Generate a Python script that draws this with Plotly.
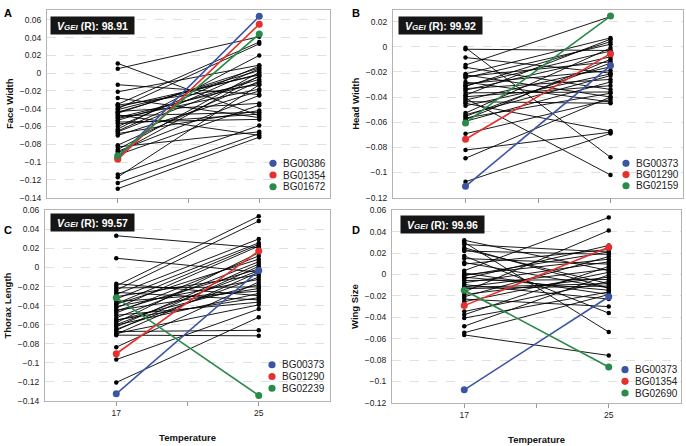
import plotly.graph_objects as go

W, H = 686, 446

temperatures = [17, 25]
temp_tick_labels = ["17", "", "25"]

# ---------------- Panel A: Face Width ----------------
face_low = [0.011, 0.005, -0.013, -0.021, -0.028, -0.035, -0.038, -0.040, -0.043, -0.045,
            -0.048, -0.051, -0.053, -0.055, -0.044, -0.050, -0.063, -0.066, -0.068, -0.070,
            -0.081, -0.083, -0.086, -0.088, -0.092, -0.114, -0.117, -0.1235, -0.130, -0.057,
            -0.060, -0.047, -0.041, -0.036, -0.090, -0.065]
face_high = [-0.048, 0.041, -0.024, 0.009, -0.050, 0.035, -0.002, 0.033, -0.034, 0.006,
             -0.044, -0.018, -0.007, -0.052, 0.003, -0.011, 0.020, -0.004, -0.042, -0.020,
             -0.009, -0.066, 0.001, -0.025, -0.036, -0.059, -0.013, -0.068, -0.072, -0.046,
             0.008, -0.070, -0.001, -0.013, -0.003, 0.005]
face_hl_names = ["BG00386", "BG01354", "BG01672"]
face_hl_low = [-0.095, -0.097, -0.093]
face_hl_high = [0.064, 0.055, 0.044]

# ---------------- Panel B: Head Width ----------------
head_low = [-0.0008, -0.002, -0.0086, -0.0146, -0.0164, -0.0216, -0.0224, -0.0237, -0.0247, -0.0281,
            -0.0294, -0.0315, -0.0333, -0.0346, -0.0367, -0.0385, -0.0398, -0.0411, -0.0424, -0.0437,
            -0.045, -0.0528, -0.0541, -0.0554, -0.0567, -0.058, -0.0593, -0.0692, -0.0822, -0.0887,
            -0.1074, -0.031, -0.047]
head_high = [-0.088, -0.003, -0.021, 0.024, -0.034, 0.007, -0.040, -0.012, 0.002, -0.044,
             -0.019, 0.004, -0.026, -0.008, -0.036, 0.006, -0.031, -0.102, -0.016, -0.045,
             -0.067, -0.001, -0.023, -0.013, -0.037, -0.010, -0.028, -0.042, -0.068, -0.040,
             -0.069, -0.0034, -0.0216]
head_hl_names = ["BG00373", "BG01290", "BG02159"]
head_hl_low = [-0.111, -0.0736, -0.0606]
head_hl_high = [-0.015, -0.0055, 0.0244]

# ---------------- Panel C: Thorax Length ----------------
thorax_low = [0.0333, 0.0097, -0.017, -0.0193, -0.0214, -0.0238, -0.0262, -0.0282, -0.0306, -0.033,
              -0.0358, -0.0385, -0.0409, -0.0426, -0.0453, -0.0477, -0.0501, -0.0529, -0.0556, -0.058,
              -0.0604, -0.0624, -0.0648, -0.0672, -0.0693, -0.071, -0.0836, -0.0966, -0.1206, -0.066,
              -0.045, -0.055, -0.038, -0.070, -0.060]
thorax_high = [0.0207, -0.005, -0.0296, 0.0538, -0.0204, 0.0487, -0.034, 0.0299, -0.0077, 0.0258,
               -0.0248, 0.0087, -0.0125, 0.0224, -0.0016, 0.0121, -0.0364, 0.006, -0.018, 0.0155,
               -0.0272, 0.0036, -0.0101, -0.0659, -0.0392, -0.0717, -0.0152, -0.0436, -0.0522, 0.0012,
               -0.0221, -0.0317, 0.0241, -0.005, -0.0033]
thorax_hl_names = ["BG00373", "BG01290", "BG02239"]
thorax_hl_low = [-0.1325, -0.0905, -0.0317]
thorax_hl_high = [-0.0033, 0.0172, -0.1343]

# ---------------- Panel D: Wing Size ----------------
wing_low = [0.032, 0.0301, 0.028, 0.0234, 0.0219, 0.0173, 0.0149, 0.0112, 0.0097, 0.0036,
            0.0014, -0.0004, -0.0025, -0.004, -0.0056, -0.0077, -0.0095, -0.0117, -0.0132, -0.0163,
            -0.0187, -0.0208, -0.023, -0.0254, -0.0346, -0.0376, -0.0407, -0.0483, -0.0544, -0.0565,
            0.025, -0.001, -0.012]
wing_high = [0.0036, -0.0538, 0.021, -0.0086, 0.0188, -0.0361, 0.0097, -0.0126, 0.0234, 0.0533,
             -0.0187, 0.0143, -0.0147, 0.0271, -0.0047, 0.0118, -0.023, 0.0051, -0.0108, 0.0411,
             -0.0025, 0.0167, -0.03, 0.002, -0.0065, 0.0075, -0.0163, -0.0004, -0.0187, -0.0757,
             -0.0126, 0.021, -0.0086]
wing_hl_names = ["BG00373", "BG01354", "BG02690"]
wing_hl_low = [-0.1078, -0.0291, -0.0147]
wing_hl_high = [-0.0208, 0.0255, -0.0864]

vgei_values = ["98.91", "99.92", "99.57", "99.96"]
panel_letters = ["A", "B", "C", "D"]
y_titles = ["Face Width", "Head Width", "Thorax Length", "Wing Size"]
hl_colors = ["#3b55a5", "#e5302c", "#2a8a47"]

panels = [
    dict(low=face_low, high=face_high, hl_names=face_hl_names, hl_low=face_hl_low, hl_high=face_hl_high,
         dom_x=(47, 330), dom_y=(5, 197), yrange=(-0.14, 0.0712), dtick=0.02, show_x=False,
         letter=(8, 8), box=(50, 11), legend=(273, 162, 12), ytitle_standoff=4),
    dict(low=head_low, high=head_high, hl_names=head_hl_names, hl_low=head_hl_low, hl_high=head_hl_high,
         dom_x=(393, 683), dom_y=(5, 197), yrange=(-0.12, 0.0293), dtick=0.02, show_x=False,
         letter=(356, 8), box=(398, 11), legend=(626, 162, 11.5), ytitle_standoff=4),
    dict(low=thorax_low, high=thorax_high, hl_names=thorax_hl_names, hl_low=thorax_hl_low, hl_high=thorax_hl_high,
         dom_x=(45, 330), dom_y=(210, 405), yrange=(-0.14, 0.06), dtick=0.02, show_x=True,
         letter=(8, 230), box=(50, 213), legend=(272, 368, 12), ytitle_standoff=4),
    dict(low=wing_low, high=wing_high, hl_names=wing_hl_names, hl_low=wing_hl_low, hl_high=wing_hl_high,
         dom_x=(392, 681), dom_y=(210, 407), yrange=(-0.12, 0.06), dtick=0.02, show_x=True,
         letter=(356, 230), box=(400, 215), legend=(625, 373, 12), ytitle_standoff=4),
]


def px(x):
    return x / W


def py(y):
    return 1 - y / H


fig = go.Figure()
annotations = []
shapes = []

for i, p in enumerate(panels):
    n = i + 1
    xa = "x" if n == 1 else f"x{n}"
    ya = "y" if n == 1 else f"y{n}"

    xs, ys = [], []
    for lo, hi in zip(p["low"], p["high"]):
        xs += [temperatures[0], temperatures[1], None]
        ys += [lo, hi, None]
    fig.add_trace(go.Scatter(x=xs, y=ys, mode="lines+markers", xaxis=xa, yaxis=ya,
                             line=dict(color="black", width=0.9),
                             marker=dict(color="black", size=4.5),
                             showlegend=False, hoverinfo="skip"))
    for name, lo, hi, col in zip(p["hl_names"], p["hl_low"], p["hl_high"], hl_colors):
        fig.add_trace(go.Scatter(x=temperatures, y=[lo, hi], mode="lines+markers", name=name,
                                 xaxis=xa, yaxis=ya, line=dict(color=col, width=1.6),
                                 marker=dict(color=col, size=7), showlegend=False))

    xkey = "xaxis" if n == 1 else f"xaxis{n}"
    ykey = "yaxis" if n == 1 else f"yaxis{n}"
    x0, x1 = p["dom_x"]
    t0, t1 = p["dom_y"]
    fig.update_layout(**{
        xkey: dict(domain=[px(x0), px(x1)], anchor=ya, range=[13, 29],
                   tickmode="array", tickvals=[17, 21, 25], ticktext=temp_tick_labels,
                   showticklabels=p["show_x"], ticks="outside", ticklen=4, tickcolor="#9a9a9a",
                   showgrid=False, zeroline=False, showline=True, mirror=True, linecolor="#b4b4b4",
                   linewidth=1, tickfont=dict(size=8.5, color="#222"),
                   title=dict(text="<b>Temperature</b>" if p["show_x"] else "",
                              font=dict(size=9.5, color="#111"), standoff=17)),
        ykey: dict(domain=[py(t1), py(t0)], anchor=xa, range=list(p["yrange"]),
                   tickmode="linear", tick0=0, dtick=p["dtick"], tickformat="~g",
                   showgrid=True, gridcolor="#e0e0e0", griddash="dash", gridwidth=1,
                   zeroline=False, showline=True, mirror=True, linecolor="#b4b4b4", linewidth=1,
                   ticks="", ticklabelstandoff=3, tickfont=dict(size=8.5, color="#222"),
                   title=dict(text=f"<b>{y_titles[i]}</b>", font=dict(size=9.5, color="#111"),
                              standoff=p["ytitle_standoff"])),
    })

    # panel letter
    lx, ly = p["letter"]
    annotations.append(dict(x=px(lx), y=py(ly), xref="paper", yref="paper", text=f"<b>{panel_letters[i]}</b>",
                            showarrow=False, font=dict(size=11, color="black", family="Liberation Sans, Arial"),
                            xanchor="center", yanchor="middle"))
    # VGEI box
    bx, by = p["box"]
    annotations.append(dict(x=px(bx), y=py(by), xref="paper", yref="paper",
                            text=f"<b><i>V<span style='font-size:8px'>GEI</span></i> (R): {vgei_values[i]}</b>",
                            showarrow=False, font=dict(size=10.5, color="white", family="Liberation Sans, Arial"),
                            bgcolor="#161616", borderpad=3, width=77, height=11, align="center",
                            xanchor="left", yanchor="top"))
    # legend
    lgx, lgy, step = p["legend"]
    for k, (name, col) in enumerate(zip(p["hl_names"], hl_colors)):
        cy = lgy + k * step
        shapes.append(dict(type="circle", xref="paper", yref="paper",
                           x0=px(lgx - 3.6), x1=px(lgx + 3.6), y0=py(cy + 3.6), y1=py(cy - 3.6),
                           fillcolor=col, line=dict(width=0)))
        annotations.append(dict(x=px(lgx + 8), y=py(cy), xref="paper", yref="paper", text=name,
                                showarrow=False, font=dict(size=10, color="#222"),
                                xanchor="left", yanchor="middle"))

fig.update_layout(
    width=W, height=H,
    margin=dict(l=0, r=0, t=0, b=0),
    paper_bgcolor="white", plot_bgcolor="white",
    font=dict(family="Liberation Sans, Arial, sans-serif", color="#222"),
    annotations=annotations, shapes=shapes,
    showlegend=False,
)

fig.write_html("out.html", config={"displayModeBar": False},
               post_script="document.body.style.margin='0';document.body.style.overflow='hidden';")
